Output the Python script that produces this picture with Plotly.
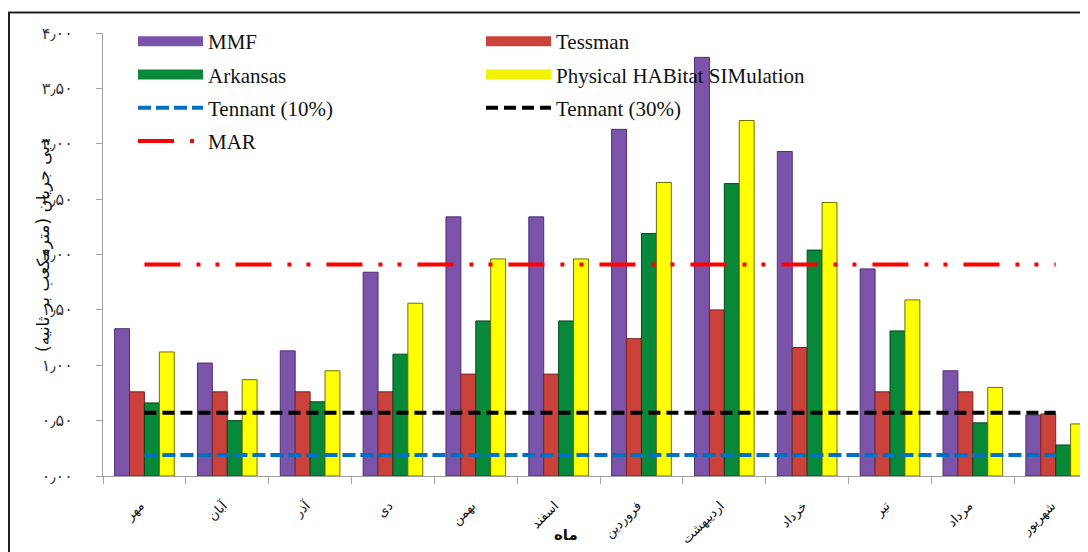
import plotly.graph_objects as go

categories = ["مهر", "آبان", "آذر", "دی", "بهمن", "اسفند",
              "فروردین", "اردیبهشت", "خرداد", "تیر", "مرداد", "شهریور"]
mmf = [1.33, 1.02, 1.13, 1.84, 2.34, 2.34, 3.13, 3.78, 2.93, 1.87, 0.95, 0.55]
tessman = [0.76, 0.76, 0.76, 0.76, 0.92, 0.92, 1.24, 1.50, 1.16, 0.76, 0.76, 0.56]
arkansas = [0.66, 0.50, 0.67, 1.10, 1.40, 1.40, 2.19, 2.64, 2.04, 1.31, 0.48, 0.28]
phabsim = [1.12, 0.87, 0.95, 1.56, 1.96, 1.96, 2.65, 3.21, 2.47, 1.59, 0.80, 0.47]
mar_value = 1.91
tennant10_value = 0.19
tennant30_value = 0.57
y_tickvals = [0, 0.5, 1.0, 1.5, 2.0, 2.5, 3.0, 3.5, 4.0]
y_ticktext = ["۰٫۰۰", "۰٫۵۰", "۱٫۰۰", "۱٫۵۰", "۲٫۰۰", "۲٫۵۰", "۳٫۰۰", "۳٫۵۰", "۴٫۰۰"]

# page has an 8px body margin; figure sized to fill the rest of the window
OFF = 8
W, H = 1080, 544
ML, MT, MB, MR = 95, 25, 76, 0
PW = W - ML - MR
PH = H - MT - MB


def px_x(p):
    """page x pixel -> paper coordinate"""
    return (p - OFF - ML) / PW


def px_y(p):
    """page y pixel -> paper coordinate"""
    return (H - MB - (p - OFF)) / PH


fig = go.Figure()

bar_specs = [
    ("MMF", mmf, "#7B54AA", "#4E2F78"),
    ("Tessman", tessman, "#CB413B", "#7E2420"),
    ("Arkansas", arkansas, "#08893A", "#034A1E"),
    ("Physical HABitat SIMulation", phabsim, "#FFFF00", "#6E6E00"),
]
for name, vals, col, edge in bar_specs:
    fig.add_trace(go.Bar(
        x=categories, y=vals, name=name, legendgroup=name, showlegend=False,
        marker=dict(color=col, line=dict(color=edge, width=1)),
    ))

# legend entries for bars (long bar-like symbols, as in the original)
legend_bars = [
    ("MMF", "#7B54AA", "legend"),
    ("Tessman", "#CB413B", "legend2"),
    ("Arkansas", "#08893A", "legend"),
    ("Physical HABitat SIMulation", "#F2F200", "legend2"),
]
for name, col, lg in legend_bars:
    fig.add_trace(go.Scatter(
        x=[None], y=[None], mode="lines", name=name, legendgroup=name,
        legend=lg, line=dict(color=col, width=10), hoverinfo="skip",
    ))

lines = [
    ("Tennant (10%)", tennant10_value, "#0070C0", "13px,5px", "legend"),
    ("Tennant (30%)", tennant30_value, "#000000", "12px,6px", "legend2"),
    ("MAR", mar_value, "#FF0000", "36px,16px,4px,15px,4px,16px", "legend"),
]
for name, v, col, dash, lg in lines:
    fig.add_trace(go.Scatter(
        x=categories, y=[v] * len(categories), mode="lines", name=name,
        legendgroup=name, legend=lg,
        line=dict(color=col, width=4, dash=dash),
    ))

legend_font = dict(family="Liberation Serif, Times New Roman, serif", size=21, color="#111")
fig.update_layout(
    width=W, height=H,
    margin=dict(l=ML, r=MR, t=MT, b=MB, autoexpand=False),
    paper_bgcolor="white", plot_bgcolor="white",
    barmode="group", bargap=0.28, bargroupgap=0,
    showlegend=True,
    legend=dict(x=px_x(133), y=px_y(21), xanchor="left", yanchor="top",
                orientation="v", traceorder="grouped", tracegroupgap=3,
                itemwidth=65, font=legend_font, bgcolor="rgba(0,0,0,0)"),
    legend2=dict(x=px_x(481), y=px_y(21), xanchor="left", yanchor="top",
                 orientation="v", traceorder="grouped", tracegroupgap=3,
                 itemwidth=65, font=legend_font, bgcolor="rgba(0,0,0,0)"),
    xaxis=dict(
        type="category", range=[-0.5, 11.39],
        showline=True, linecolor="#A0A0A0", linewidth=1,
        ticks="outside", tickson="boundaries", ticklen=7, tickcolor="#A0A0A0",
        tickangle=-45, showgrid=False,
        ticklabelstandoff=16, ticklabelshift=-4,
        tickfont=dict(family="DejaVu Sans", size=13, color="#111"),
    ),
    yaxis=dict(
        range=[0, 4.0], tickvals=y_tickvals, ticktext=y_ticktext,
        showline=True, linecolor="#A0A0A0", linewidth=1,
        ticks="outside", ticklen=6, tickcolor="#A0A0A0",
        showgrid=False, zeroline=False,
        ticklabelstandoff=20,
        tickfont=dict(family="DejaVu Sans", size=16, color="#333"),
    ),
    annotations=[
        dict(text="دبی جریان (مترمکعب بر ثانیه)", textangle=-90,
             x=px_x(43), y=px_y(245), xref="paper", yref="paper",
             xanchor="center", yanchor="middle",
             showarrow=False, font=dict(family="DejaVu Sans", size=17, color="#111")),
        dict(text="<b>ماه</b>", x=px_x(566), y=px_y(535), xref="paper", yref="paper",
             xanchor="center", yanchor="middle",
             showarrow=False, font=dict(family="DejaVu Sans", size=15, color="#111")),
    ],
    shapes=[
        dict(type="rect", xref="paper", yref="paper",
             x0=px_x(9), x1=px_x(1300), y0=px_y(800), y1=px_y(12.5),
             line=dict(color="#222", width=2), fillcolor="rgba(0,0,0,0)", layer="below"),
    ],
)

fig.write_html("out.html")
